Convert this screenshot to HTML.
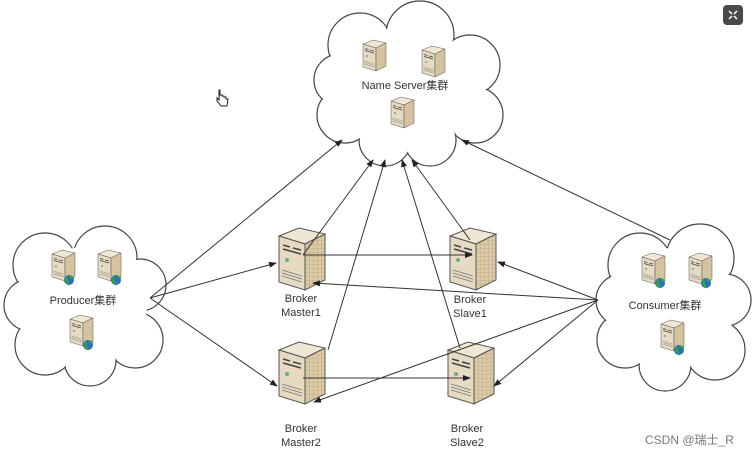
<!DOCTYPE html>
<html><head><meta charset="utf-8"><style>
html,body{margin:0;padding:0;background:#fff;}
svg{display:block}
text{font-family:"Liberation Sans","Noto Sans CJK SC",sans-serif;fill:#333;}
</style></head><body>
<svg width="755" height="454" viewBox="0 0 755 454" xmlns="http://www.w3.org/2000/svg">
<defs>
<marker id="a" markerWidth="8" markerHeight="8" refX="7" refY="4" orient="auto" markerUnits="userSpaceOnUse">
<path d="M0,1 L8,4 L0,7 Z" fill="#222"/></marker>
<pattern id="g" width="4" height="4" patternUnits="userSpaceOnUse">
<rect width="4" height="4" fill="#dccaa6"/><path d="M0,0V4M0,0H4" stroke="#b9a57f" stroke-width="0.8"/></pattern>
<g id="srv">
<polygon points="2,8 22,0 48,6 28,16" fill="#efe6d3" stroke="#555" stroke-width="1"/>
<polygon points="2,8 28,16 28,62 2,54" fill="#e6dbc2" stroke="#555" stroke-width="1"/>
<polygon points="28,16 48,6 48,52 28,62" fill="url(#g)" stroke="#555" stroke-width="1"/>
<path d="M6,17 L13,19 M16,20 L24,22 M6,21 L24,26" stroke="#444" stroke-width="1.5"/>
<circle cx="10" cy="32" r="2" fill="#6a9" />
<path d="M5,42 L25,48 M5,45 L25,51 M5,48 L25,54" stroke="#777" stroke-width="0.8"/>
</g>
<g id="globe"><circle r="5" fill="#2a6fc0"/><path d="M-3,-3 q2,2 0,4 q3,1 2,4 M1,-4 q2,2 4,1" stroke="#3a3" stroke-width="2" fill="none"/></g>
</defs>

<!-- clouds -->
<g stroke="#444" stroke-width="1.2" fill="#fff">
<circle cx="360" cy="45" r="32"/><circle cx="420" cy="35" r="34"/><circle cx="470" cy="65" r="30"/>
<circle cx="475" cy="115" r="28"/><circle cx="430" cy="140" r="26"/><circle cx="385" cy="140" r="26"/>
<circle cx="345" cy="115" r="28"/><circle cx="340" cy="80" r="26"/>
<circle cx="45" cy="265" r="32"/><circle cx="105" cy="258" r="32"/><circle cx="140" cy="285" r="26"/>
<circle cx="135" cy="340" r="28"/><circle cx="90" cy="360" r="26"/><circle cx="45" cy="345" r="30"/>
<circle cx="30" cy="305" r="26"/>
<circle cx="640" cy="265" r="32"/><circle cx="700" cy="258" r="34"/><circle cx="725" cy="300" r="26"/>
<circle cx="715" cy="350" r="30"/><circle cx="665" cy="365" r="26"/><circle cx="625" cy="340" r="28"/>
<circle cx="622" cy="300" r="26"/>
</g>
<g fill="#fff">
<circle cx="360" cy="45" r="31"/><circle cx="420" cy="35" r="33"/><circle cx="470" cy="65" r="29"/>
<circle cx="475" cy="115" r="27"/><circle cx="430" cy="140" r="25"/><circle cx="385" cy="140" r="25"/>
<circle cx="345" cy="115" r="27"/><circle cx="340" cy="80" r="25"/>
<ellipse cx="408" cy="90" rx="66" ry="55"/>
<circle cx="45" cy="265" r="31"/><circle cx="105" cy="258" r="31"/><circle cx="140" cy="285" r="25"/>
<circle cx="135" cy="340" r="27"/><circle cx="90" cy="360" r="25"/><circle cx="45" cy="345" r="29"/>
<circle cx="30" cy="305" r="25"/><ellipse cx="85" cy="305" rx="62" ry="58"/>
<circle cx="640" cy="265" r="31"/><circle cx="700" cy="258" r="33"/><circle cx="725" cy="300" r="25"/>
<circle cx="715" cy="350" r="29"/><circle cx="665" cy="365" r="25"/><circle cx="625" cy="340" r="27"/>
<circle cx="622" cy="300" r="25"/><ellipse cx="672" cy="308" rx="62" ry="60"/>
</g>

<!-- servers -->
<use href="#srv" transform="translate(362,40) scale(0.5)"/>
<use href="#srv" transform="translate(421,46) scale(0.5)"/>
<use href="#srv" transform="translate(390,97) scale(0.5)"/>
<use href="#srv" transform="translate(51,250) scale(0.5)"/>
<use href="#srv" transform="translate(97,250) scale(0.5)"/>
<use href="#srv" transform="translate(69,315) scale(0.5)"/>
<use href="#globe" transform="translate(69,280)"/><use href="#globe" transform="translate(116,280)"/><use href="#globe" transform="translate(88,345)"/>
<use href="#srv" transform="translate(641,253) scale(0.5)"/>
<use href="#srv" transform="translate(688,253) scale(0.5)"/>
<use href="#srv" transform="translate(660,320) scale(0.5)"/>
<use href="#globe" transform="translate(660,283)"/><use href="#globe" transform="translate(706,283)"/><use href="#globe" transform="translate(679,350)"/>
<use href="#srv" transform="translate(277,228) scale(1)"/>
<use href="#srv" transform="translate(448,228) scale(1)"/>
<use href="#srv" transform="translate(277,342) scale(1)"/>
<use href="#srv" transform="translate(446,342) scale(1)"/>

<!-- connectors -->
<g stroke="#333" stroke-width="1" fill="none" marker-end="url(#a)">
<line x1="150" y1="298" x2="342" y2="140"/>
<line x1="150" y1="298" x2="276" y2="263"/>
<line x1="150" y1="298" x2="277" y2="386"/>
<line x1="303" y1="255" x2="373" y2="160"/>
<line x1="328" y1="350" x2="385" y2="160"/>
<line x1="460" y1="348" x2="402" y2="160"/>
<line x1="470" y1="240" x2="412" y2="160"/>
<line x1="670" y1="240" x2="462" y2="140"/>
<line x1="303" y1="255" x2="472" y2="255"/>
<line x1="303" y1="378" x2="470" y2="378"/>
<line x1="598" y1="300" x2="498" y2="262"/>
<line x1="598" y1="300" x2="313" y2="283"/>
<line x1="598" y1="300" x2="494" y2="386"/>
<line x1="598" y1="300" x2="314" y2="402"/>
</g>

<!-- labels -->
<g font-size="11" text-anchor="middle">
<text x="405" y="89">Name Server集群</text>
<text x="83" y="304">Producer集群</text>
<text x="665" y="309">Consumer集群</text>
<text x="301" y="302">Broker</text><text x="301" y="316">Master1</text>
<text x="470" y="303">Broker</text><text x="470" y="317">Slave1</text>
<text x="301" y="432">Broker</text><text x="301" y="446">Master2</text>
<text x="467" y="432">Broker</text><text x="467" y="446">Slave2</text>
</g>
<text x="645" y="444" font-size="12" style="fill:#777">CSDN @瑞士_R</text>
<path d="M219,90 v10 l-2,-2 v3 l4,5 h6 l1,-7 h-2 v-2 h-2 v-1 h-2 v-1 h-2 v-5 z" fill="#fff" stroke="#222" stroke-width="1"/>
<rect x="723" y="5" width="20" height="20" rx="4" fill="#4a4a4a"/>
<path d="M729,11 l3,3 M737,11 l-3,3 M729,19 l3,-3 M737,19 l-3,-3" stroke="#fff" stroke-width="1.5"/>
</svg>
</body></html>
